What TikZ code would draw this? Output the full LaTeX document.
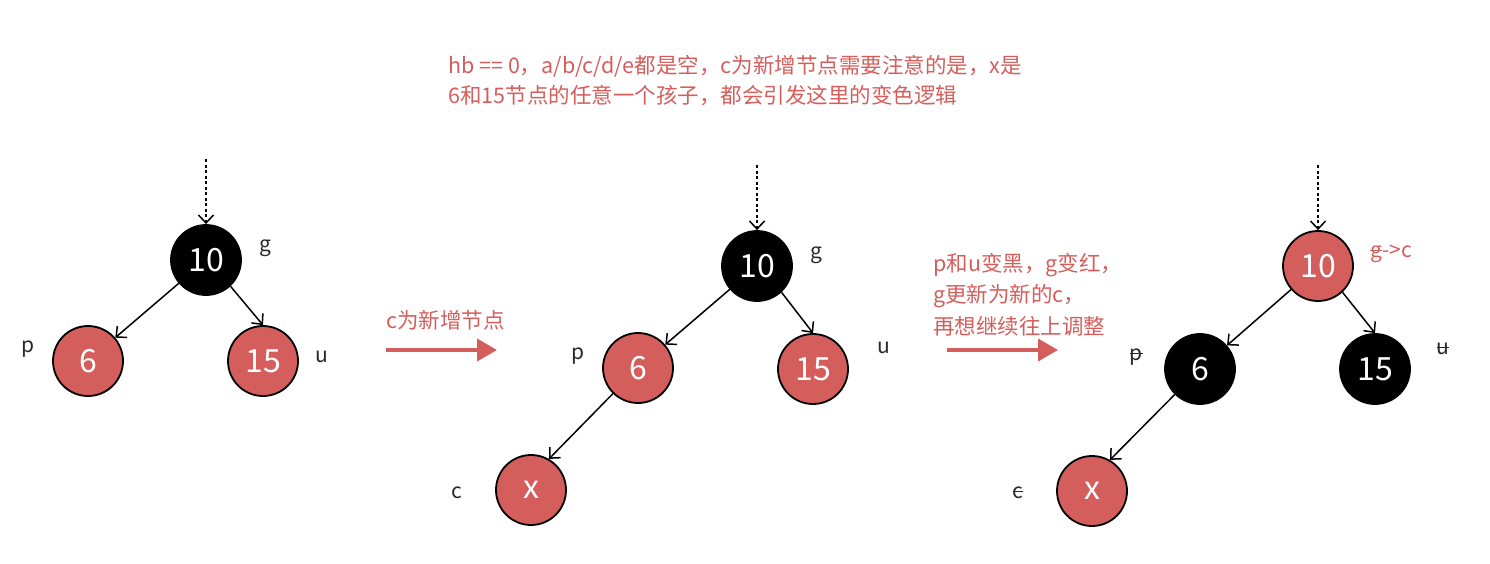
\documentclass[tikz,border=0pt]{standalone}
\usepackage{fontspec}
\setmainfont{Noto Sans CJK SC}
\usetikzlibrary{arrows.meta}
\definecolor{rbred}{RGB}{212,94,92}
\definecolor{lbl}{RGB}{40,40,40}
\newcommand\strikeltr[1]{\setbox0\hbox{#1}\rlap{\rule[0.3em]{\wd0}{0.055em}}\box0}
\begin{document}
\begin{tikzpicture}[x=1pt,y=-1pt,
  rbnode/.style={circle,draw=black,line width=1.8pt,minimum size=70pt,inner sep=0pt,text=white,font=\fontsize{32}{33}\selectfont},
  rednode/.style={rbnode,fill=rbred},
  blknode/.style={rbnode,fill=black},
  edge/.style={line width=1.5pt,-{Straight Barb[length=8pt,width=15pt,line width=1.5pt]}},
  dotedge/.style={line width=1.5pt,dash pattern=on 3pt off 2.5pt,-{Straight Barb[length=8pt,width=15pt,line width=1.5pt]}},
  lab/.style={text=lbl,font=\fontsize{21}{22}\selectfont},
  note/.style={text=rbred,font=\fontsize{21.5}{24}\selectfont,anchor=west,inner sep=0pt},
  bigarrow/.style={rbred,line width=4pt,-{Triangle[length=20pt,width=22pt]}}]
\useasboundingbox (0,0) rectangle (1490,563);

% top note
\node[note] (t1) at (448,66) {hb == 0，a/b/c/d/e都是空，c为新增节点需要注意的是，x是};
\node[note] (t2) at (448,96) {6和15节点的任意一个孩子，都会引发这里的变色逻辑};

% tree 1
\node[blknode] (g1) at (206,260) {10};
\node[rednode] (p1) at (88,361) {6};
\node[rednode] (u1) at (263,361) {15};
\coordinate (s1) at (206,159);
\draw[dotedge] (s1) -- (g1.north);
\draw[edge] (g1) -- (p1);
\draw[edge] (g1.-47) -- (u1.north);
\node[lab] (lg1) at (265,248) {g};
\node[lab] (lp1) at (28,349) {p};
\node[lab] (lu1) at (322,357) {u};

% arrow 1
\node[note] (a1t) at (386,320) {c为新增节点};
\coordinate (a1s) at (386,350);
\coordinate (a1e) at (497,350);
\draw[bigarrow] (a1s) -- (a1e);

% tree 2
\node[blknode] (g2) at (757,266) {10};
\node[rednode] (p2) at (638,368) {6};
\node[rednode] (u2) at (813,369) {15};
\node[rednode] (x2) at (531,490) {x};
\coordinate (s2) at (757,165);
\draw[dotedge] (s2) -- (g2.north);
\draw[edge] (g2) -- (p2);
\draw[edge] (g2.-47) -- (u2.north);
\draw[edge] (p2) -- (x2.60);
\node[lab] (lg2) at (816,255) {g};
\node[lab] (lp2) at (578,356) {p};
\node[lab] (lu2) at (884,348) {u};
\node[lab] (lc2) at (457,493) {c};

% arrow 2
\node[note] (a2t1) at (933,265) {p和u变黑，g变红，};
\node[note] (a2t2) at (933,296) {g更新为新的c，};
\node[note] (a2t3) at (933,326) {再想继续往上调整};
\coordinate (a2s) at (947,350);
\coordinate (a2e) at (1058,350);
\draw[bigarrow] (a2s) -- (a2e);

% tree 3
\node[rednode] (g3) at (1318,266) {10};
\node[blknode] (p3) at (1200,369) {6};
\node[blknode] (u3) at (1375,369) {15};
\node[rednode] (x3) at (1092,491) {x};
\coordinate (s3) at (1318,165);
\draw[dotedge] (s3) -- (g3.north);
\draw[edge] (g3) -- (p3);
\draw[edge] (g3.-47) -- (u3.north);
\draw[edge] (p3) -- (x3.60);
\node[lab,text=rbred,anchor=west,inner sep=0pt] (lg3) at (1370,254) {\strikeltr{g}->c};
\node[lab] (lp3) at (1136,357) {\strikeltr{p}};
\node[lab] (lu3) at (1443,349) {\strikeltr{u}};
\node[lab] (lc3) at (1018,493) {\strikeltr{c}};
\end{tikzpicture}
\end{document}
